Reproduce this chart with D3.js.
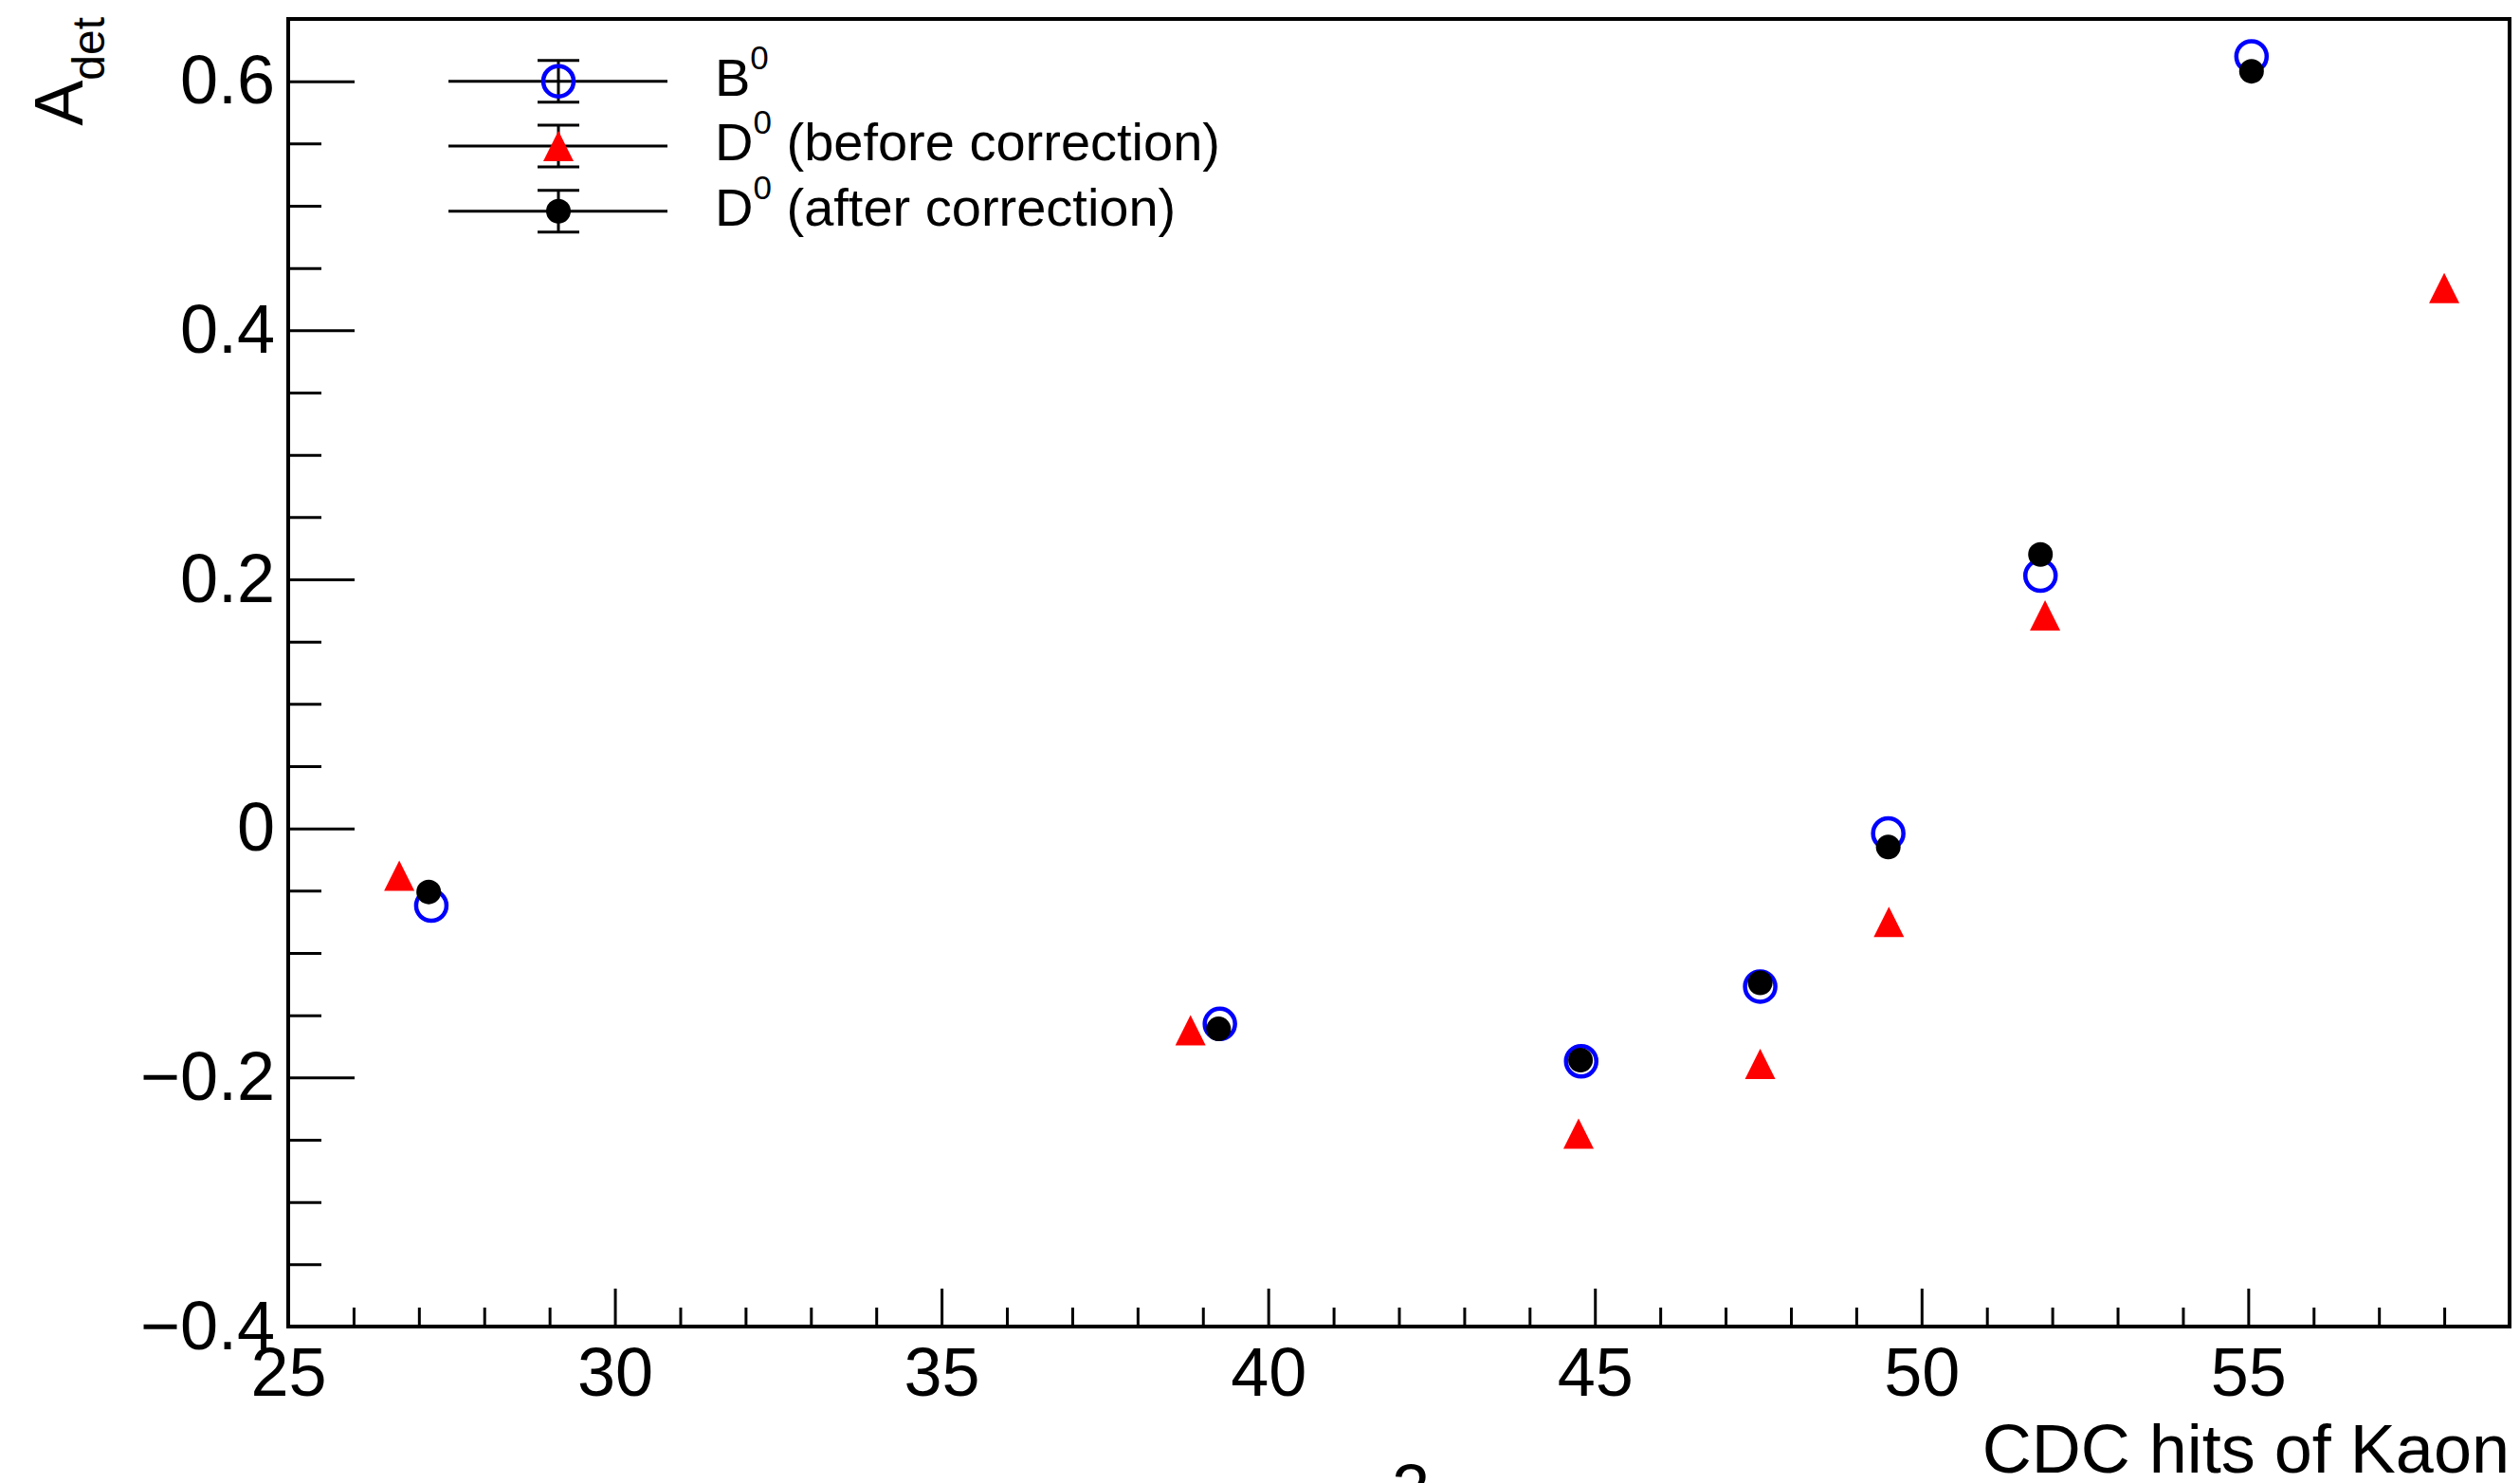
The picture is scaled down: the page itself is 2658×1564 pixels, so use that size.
<!DOCTYPE html>
<html>
<head>
<meta charset="utf-8">
<script src="https://cdn.jsdelivr.net/npm/d3@7"></script>
<style>
  html, body { margin: 0; padding: 0; background: #fff; }
  svg { display: block; }
  text { font-family: "Liberation Sans", Arial, Helvetica, sans-serif; fill: #000; }
</style>
</head>
<body>
<script>
// ---------------- data ----------------
const xB0      = [27.19, 39.26, 44.79, 47.53, 49.49, 51.82, 55.05];
const yB0      = [-0.062, -0.157, -0.187, -0.127, -0.004, 0.203, 0.620];
const xDbefore = [26.70, 38.81, 44.75, 47.53, 49.50, 51.89, 58.00];
const yDbefore = [-0.038, -0.162, -0.245, -0.189, -0.075, 0.171, 0.434];
const xDafter  = [27.15, 39.24, 44.78, 47.53, 49.49, 51.82, 55.05];
const yDafter  = [-0.051, -0.161, -0.186, -0.124, -0.015, 0.220, 0.608];

const xMajorTicks = [25, 30, 35, 40, 45, 50, 55];
const xTickLabels = ["25", "30", "35", "40", "45", "50", "55"];
const yMajorTicks = [-0.4, -0.2, 0, 0.2, 0.4, 0.6];
const yTickLabels = ["\u22120.4", "\u22120.2", "0", "0.2", "0.4", "0.6"];

const legendMain = ["B", "D", "D"];
const legendSup  = ["0", "0", "0"];
const legendRest = ["", " (before correction)", " (after correction)"];

const xTitle = "CDC hits of Kaon";
const yTitleMain = "A";
const yTitleSub = "det";

// ---------------- layout ----------------
const W = 2658, H = 1564;
const L = 304, R = 2647, T = 20, B = 1399;

const svg = d3.select("body").append("svg")
  .attr("width", W).attr("height", H)
  .attr("viewBox", `0 0 ${W} ${H}`);
svg.append("rect").attr("width", W).attr("height", H).attr("fill", "#fff");

const x = d3.scaleLinear().domain([25, 59]).range([L, R]);
const y = d3.scaleLinear().domain([-0.4, 0.65]).range([B, T]);

// minor ticks
const xMinor = d3.range(25, 59.001, 1).filter(v => Math.abs(v % 5) > 1e-6);
const yMinor = d3.range(-0.4, 0.6501, 0.05).map(v => +v.toFixed(2))
  .filter(v => !yMajorTicks.some(m => Math.abs(m - v) < 1e-6));

// X axis
const gx = svg.append("g").attr("transform", `translate(0,${B})`);
gx.append("g").call(d3.axisBottom(x).tickValues(xMinor).tickSize(-20).tickFormat(""))
  .call(g => g.select(".domain").remove())
  .call(g => g.selectAll("line").attr("stroke", "#000").attr("stroke-width", 3));
gx.append("g").call(d3.axisBottom(x).tickValues(xMajorTicks).tickSize(-40).tickPadding(22)
    .tickFormat((d, i) => xTickLabels[i]))
  .call(g => g.select(".domain").remove())
  .call(g => g.selectAll("line").attr("stroke", "#000").attr("stroke-width", 3))
  .call(g => g.selectAll("text").attr("font-size", 72)
      .attr("font-family", "'Liberation Sans', Arial, sans-serif").attr("fill", "#000"));

// Y axis
const gy = svg.append("g").attr("transform", `translate(${L},0)`);
gy.append("g").call(d3.axisLeft(y).tickValues(yMinor).tickSize(-35).tickFormat(""))
  .call(g => g.select(".domain").remove())
  .call(g => g.selectAll("line").attr("stroke", "#000").attr("stroke-width", 3));
gy.append("g").call(d3.axisLeft(y).tickValues(yMajorTicks).tickSize(-70).tickPadding(14)
    .tickFormat((d, i) => yTickLabels[i]))
  .call(g => g.select(".domain").remove())
  .call(g => g.selectAll("line").attr("stroke", "#000").attr("stroke-width", 3))
  .call(g => g.selectAll("text").attr("font-size", 72)
      .attr("font-family", "'Liberation Sans', Arial, sans-serif").attr("fill", "#000"));

// frame
svg.append("rect")
  .attr("x", x(25)).attr("y", y(0.65))
  .attr("width", x(59) - x(25)).attr("height", y(-0.4) - y(0.65))
  .attr("fill", "none").attr("stroke", "#000").attr("stroke-width", 4);

// axis titles
svg.append("text").attr("x", R).attr("y", 1553).attr("text-anchor", "end")
  .attr("font-size", 72).text(xTitle);

const yt = svg.append("text")
  .attr("transform", `translate(87,18) rotate(-90)`)
  .attr("text-anchor", "end").attr("font-size", 72);
yt.append("tspan").text(yTitleMain);
yt.append("tspan").attr("font-size", 48).attr("dy", 23).text(yTitleSub);

// partial page number at bottom
svg.append("text").attr("x", 1488).attr("y", 1595).attr("text-anchor", "middle")
  .attr("font-size", 72).text("2");

// ---------------- markers ----------------
const R_OPEN = 16, R_FULL = 13, TRI = 16;
function triPath(cx, cy, s) {
  return `M${cx},${cy - s}L${cx - s},${cy + s}L${cx + s},${cy + s}Z`;
}
function drawOpen(g, cx, cy) {
  g.append("circle").attr("cx", cx).attr("cy", cy).attr("r", R_OPEN)
    .attr("fill", "none").attr("stroke", "#0000ff").attr("stroke-width", 4.5);
}
function drawTri(g, cx, cy) {
  g.append("path").attr("d", triPath(cx, cy, TRI)).attr("fill", "#ff0000");
}
function drawFull(g, cx, cy) {
  g.append("circle").attr("cx", cx).attr("cy", cy).attr("r", R_FULL).attr("fill", "#000");
}

const gData = svg.append("g");
xB0.forEach((v, i) => drawOpen(gData, x(v), y(yB0[i])));
xDbefore.forEach((v, i) => drawTri(gData, x(v), y(yDbefore[i])));
xDafter.forEach((v, i) => drawFull(gData, x(v), y(yDafter[i])));

// ---------------- legend ----------------
const legY = [85.7, 154, 222.7];
const drawers = [drawOpen, drawTri, drawFull];
const gLeg = svg.append("g");
legY.forEach((cy, i) => {
  gLeg.append("line").attr("x1", 473).attr("x2", 704).attr("y1", cy).attr("y2", cy)
    .attr("stroke", "#000").attr("stroke-width", 3);
  gLeg.append("line").attr("x1", 589).attr("x2", 589).attr("y1", cy - 22).attr("y2", cy + 22)
    .attr("stroke", "#000").attr("stroke-width", 3);
  [cy - 22, cy + 22].forEach(yy =>
    gLeg.append("line").attr("x1", 567).attr("x2", 611).attr("y1", yy).attr("y2", yy)
      .attr("stroke", "#000").attr("stroke-width", 3));
  drawers[i](gLeg, 589, cy);
  const t = gLeg.append("text").attr("x", 754).attr("y", cy + 15).attr("font-size", 56);
  t.append("tspan").text(legendMain[i]);
  t.append("tspan").attr("font-size", 35).attr("dy", -28).text(legendSup[i]);
  if (legendRest[i]) t.append("tspan").attr("dy", 28).text(legendRest[i]);
});
</script>
</body>
</html>
